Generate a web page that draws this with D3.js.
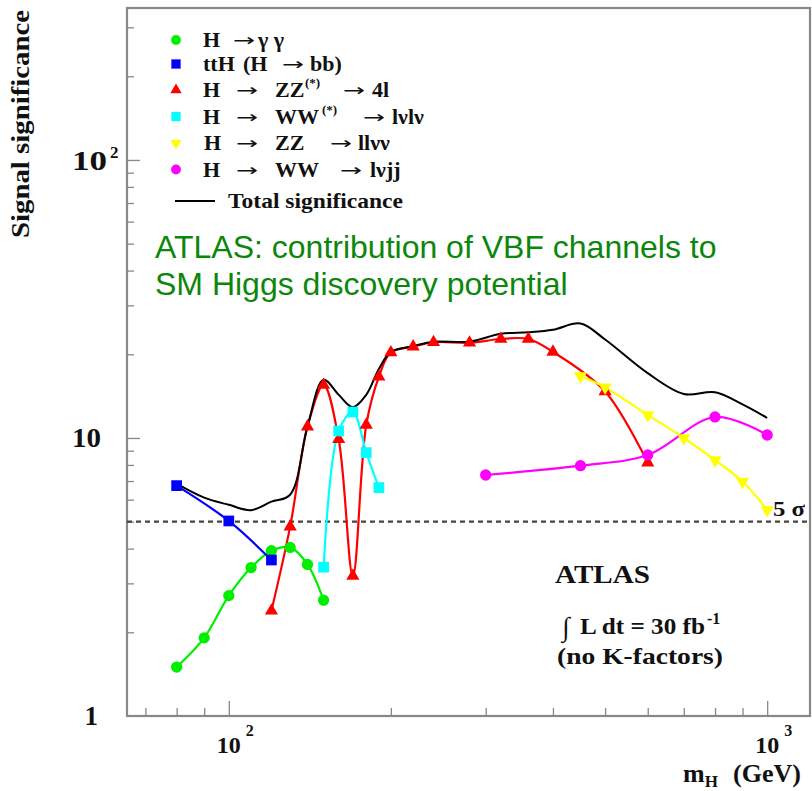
<!DOCTYPE html>
<html>
<head>
<meta charset="utf-8">
<script src="https://cdn.jsdelivr.net/npm/d3@7"></script>
<style>
  body { margin: 0; background: #fff; }
  svg { display: block; }
</style>
</head>
<body>
<svg width="812" height="791"></svg>
<script>
// channel significances
const massGG = [80, 90, 100, 110, 120, 130, 140, 150];
const sigGG = [1.50, 1.91, 2.71, 3.42, 3.93, 4.04, 3.51, 2.61];

const massTTH = [80, 100, 120];
const sigTTH = [6.74, 5.03, 3.64];

const massZZ4l = [120, 130, 140, 150, 160, 170, 180, 190, 200, 220, 240, 280, 320, 360, 400, 500, 600];
const sigZZ4l = [2.39, 4.80, 10.98, 15.5, 9.89, 3.19, 11.14, 16.6, 20.3, 21.3, 22.1, 22.0, 22.7, 22.7, 20.4, 14.7, 8.15];

const massWWlvlv = [150, 160, 170, 180, 190];
const sigWWlvlv = [3.43, 10.6, 12.4, 8.86, 6.63];

const massZZllvv = [450, 500, 600, 700, 800, 900, 1000];
const sigZZllvv = [16.7, 15.2, 12.1, 10.0, 8.33, 6.97, 5.51];

const massWWlvjj = [300, 450, 600, 800, 1000];
const sigWWlvjj = [7.36, 7.95, 8.69, 11.9, 10.25];

const massTotal = [80, 90, 100, 110, 120, 130, 140, 150, 160, 170, 180, 190, 200, 220, 240, 280, 320, 360, 400, 450, 500, 600, 700, 800, 900, 1000];
const sigTotal = [6.85, 6.1, 5.75, 5.5, 5.9, 6.25, 11.0, 16.2, 14.3, 12.9, 14.3, 17.7, 20.4, 21.4, 22.2, 22.2, 23.7, 24.0, 24.5, 25.8, 22.6, 17.1, 14.4, 14.6, 13.2, 11.8];

const fiveSigma = 5;

const xMajor = [100, 1000];
const xMinor = [70, 80, 90, 200, 300, 400, 500, 600, 700, 800, 900];
const yMajor = [10, 100];
const yMinor = [2, 3, 4, 5, 6, 7, 8, 9, 20, 30, 40, 50, 60, 70, 80, 90, 200, 300];

let svg = d3.select("svg");
const pLeft = 127, pRight = 810, pTop = 8, pBottom = 716;
const serif = "'Liberation Serif', 'Times New Roman', serif";
const arrowFont = "'DejaVu Sans', sans-serif";

let x = d3.scaleLog().domain([64.7, 1201]).range([pLeft, pRight]);
let y = d3.scaleLog().domain([1, 352]).range([pBottom, pTop]);

// ticks (inward, ROOT style)
function tickAxis(axis, vals, size, tr) {
    let g = svg.append("g").attr("transform", tr)
        .call(axis.tickValues(vals).tickSize(size).tickFormat(""));
    g.select(".domain").remove();
    g.selectAll("line").attr("stroke", "#888").attr("stroke-width", 1.3);
}
tickAxis(d3.axisBottom(x), xMajor, -15, `translate(0,${pBottom})`);
tickAxis(d3.axisBottom(x), xMinor, -8, `translate(0,${pBottom})`);
tickAxis(d3.axisLeft(y), yMajor, -13, `translate(${pLeft},0)`);
tickAxis(d3.axisLeft(y), yMinor, -7, `translate(${pLeft},0)`);

// frame
svg.append("rect")
    .attr("x", pLeft).attr("y", pTop)
    .attr("width", pRight - pLeft).attr("height", pBottom - pTop)
    .attr("fill", "none").attr("stroke", "#888").attr("stroke-width", 2.2);

// tick labels
let lab = svg.append("g").style("font-family", serif).style("font-weight", "bold").attr("fill", "#111");
lab.append("text").attr("x", 98).attr("y", y(1) + 9).attr("text-anchor", "end")
    .style("font-size", "27px").text("1");
lab.append("text").attr("x", 101).attr("y", y(10) + 9).attr("text-anchor", "end")
    .attr("textLength", 29).attr("lengthAdjust", "spacingAndGlyphs")
    .style("font-size", "27px").text("10");
lab.append("text").attr("x", 72).attr("y", y(100) + 10)
    .attr("textLength", 35).attr("lengthAdjust", "spacingAndGlyphs")
    .style("font-size", "27px").text("10");
lab.append("text").attr("x", 110).attr("y", y(100) - 2)
    .style("font-size", "17px").text("2");

[[100, "2"], [1000, "3"]].forEach(function (d) {
    lab.append("text").attr("x", x(d[0]) - 12).attr("y", 753)
        .attr("textLength", 24).attr("lengthAdjust", "spacingAndGlyphs")
        .style("font-size", "23px").text("10");
    lab.append("text").attr("x", x(d[0]) + 17).attr("y", 736)
        .style("font-size", "16px").text(d[1]);
});

// axis titles
let xt = lab.append("text").attr("x", 683).attr("y", 782).style("font-size", "26px");
xt.append("tspan").text("m");
xt.append("tspan").attr("dy", 5).style("font-size", "17px").text("H");
xt.append("tspan").attr("dy", -5).attr("x", 733).text("(GeV)");

lab.append("text")
    .attr("transform", "translate(29,124) rotate(-90)")
    .attr("text-anchor", "middle")
    .attr("textLength", 228).attr("lengthAdjust", "spacingAndGlyphs")
    .style("font-size", "25px").text("Signal significance");

// 5 sigma line
svg.append("line")
    .attr("x1", pLeft).attr("x2", pRight)
    .attr("y1", y(fiveSigma)).attr("y2", y(fiveSigma))
    .attr("stroke", "#444").attr("stroke-width", 2.2).attr("stroke-dasharray", "5,4");
lab.append("text").attr("x", 773).attr("y", 516).style("font-size", "21px")
    .attr("textLength", 32).attr("lengthAdjust", "spacingAndGlyphs").text("5 σ");

// series
const series = [
    { m: massGG, s: sigGG, color: "#00ee00", sym: d3.symbolCircle, size: 100, rot: 0 },
    { m: massTTH, s: sigTTH, color: "#0000ff", sym: d3.symbolSquare, size: 115, rot: 0 },
    { m: massZZ4l, s: sigZZ4l, color: "#ff0000", sym: d3.symbolTriangle, size: 75, rot: 0 },
    { m: massWWlvlv, s: sigWWlvlv, color: "#00ffff", sym: d3.symbolSquare, size: 115, rot: 0 },
    { m: massZZllvv, s: sigZZllvv, color: "#ffff00", sym: d3.symbolTriangle, size: 75, rot: 180 },
    { m: massWWlvjj, s: sigWWlvjj, color: "#ff00ff", sym: d3.symbolCircle, size: 100, rot: 0 }
];

let line = d3.line()
    .x(d => x(d[0]))
    .y(d => y(d[1]))
    .curve(d3.curveCatmullRom.alpha(0.5));

let plot = svg.append("g");
series.forEach(function (ser) {
    let pts = ser.m.map((m, i) => [m, ser.s[i]]);
    plot.append("path").attr("d", line(pts))
        .attr("fill", "none").attr("stroke", ser.color).attr("stroke-width", 2.2);
});
let totalPts = massTotal.map((m, i) => [m, sigTotal[i]]);
plot.append("path").attr("d", line(totalPts))
    .attr("fill", "none").attr("stroke", "#000").attr("stroke-width", 2);

series.forEach(function (ser) {
    let pts = ser.m.map((m, i) => [m, ser.s[i]]);
    plot.append("g").selectAll("path").data(pts).enter().append("path")
        .attr("d", d3.symbol().type(ser.sym).size(ser.size))
        .attr("transform", d => `translate(${x(d[0])},${y(d[1])}) rotate(${ser.rot})`)
        .attr("fill", ser.color);
});

// legend
const legRows = [40, 64, 90, 116.5, 143, 169.5];
const legParts = [
    [["H", 203], ["→", 233, 1], ["γ γ", 258]],
    [["ttH", 203], ["(H", 243], ["→", 282, 1], ["bb)", 310]],
    [["H", 203], ["→", 236, 1], ["ZZ", 275], ["(*)", 305, 2], ["→", 343, 1], ["4l", 372]],
    [["H", 203], ["→", 236, 1], ["WW", 275], ["(*)", 322, 2], ["→", 363, 1], ["lνlν", 392]],
    [["H", 204], ["→", 236, 1], ["ZZ", 275], ["→", 330, 1], ["llνν", 358]],
    [["H", 203], ["→", 236, 1], ["WW", 275], ["→", 340, 1], ["lνjj", 370]]
];
let leg = svg.append("g").style("font-family", serif).attr("fill", "#111");
series.forEach(function (ser, i) {
    leg.append("path")
        .attr("d", d3.symbol().type(ser.sym).size(ser.size * 0.75))
        .attr("transform", `translate(176,${legRows[i]}) rotate(${ser.rot})`)
        .attr("fill", ser.color);
    let t = leg.append("text").attr("y", legRows[i] + 7).style("font-size", "22px").style("font-weight", "bold");
    legParts[i].forEach(function (p) {
        if (p[2] === 1) {
            // arrows drawn as their own stretched text
            leg.append("text").attr("x", p[1]).attr("y", legRows[i] + 6)
                .attr("textLength", 22).attr("lengthAdjust", "spacingAndGlyphs")
                .style("font-family", arrowFont).style("font-size", "17px").text(p[0]);
            return;
        }
        let ts = t.append("tspan").attr("x", p[1]).text(p[0]);
        if (p[2] === 2) ts.attr("y", legRows[i] - 3).style("font-size", "13px");
        else ts.attr("y", legRows[i] + 7);
    });
});
leg.append("line").attr("x1", 175).attr("x2", 215).attr("y1", 201).attr("y2", 201)
    .attr("stroke", "#000").attr("stroke-width", 2);
leg.append("text").attr("x", 228).attr("y", 208)
    .attr("textLength", 175).attr("lengthAdjust", "spacingAndGlyphs")
    .style("font-size", "22px").style("font-weight", "bold").text("Total significance");

// ATLAS block
let at = svg.append("g").style("font-family", serif).style("font-weight", "bold").attr("fill", "#111");
at.append("text").attr("x", 555).attr("y", 583).style("font-size", "26px")
    .attr("textLength", 95).attr("lengthAdjust", "spacingAndGlyphs").text("ATLAS");
at.append("text").attr("x", 562).attr("y", 636).style("font-weight", "normal")
    .style("font-size", "27px").text("∫");
at.append("text").attr("x", 580).attr("y", 634)
    .attr("textLength", 125).attr("lengthAdjust", "spacingAndGlyphs")
    .style("font-size", "23px").text("L dt = 30 fb");
at.append("text").attr("x", 707).attr("y", 624)
    .style("font-size", "16px").text("-1");
at.append("text").attr("x", 557).attr("y", 664).style("font-size", "24px")
    .attr("textLength", 166).attr("lengthAdjust", "spacingAndGlyphs").text("(no K-factors)");

// green slide annotation
let note = svg.append("text")
    .style("font-family", "'Liberation Sans', Arial, sans-serif")
    .style("font-size", "32px").attr("fill", "#0b870b");
note.append("tspan").attr("x", 155).attr("y", 258).text("ATLAS: contribution of VBF channels to");
note.append("tspan").attr("x", 155).attr("y", 295).text("SM Higgs discovery potential");
</script>
</body>
</html>
